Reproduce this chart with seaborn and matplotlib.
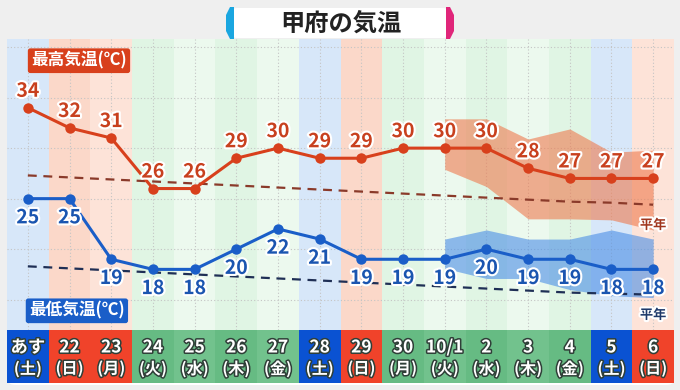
import matplotlib
matplotlib.use("Agg")
import matplotlib.pyplot as plt
import matplotlib.patheffects as pe
from matplotlib.patches import FancyBboxPatch, Polygon
import numpy as np
import pandas as pd
import seaborn as sns

sns.set_theme(style="white")
plt.rcParams['font.family'] = ['Noto Sans CJK JP', 'DejaVu Sans']

# ---- data ----
days = ["あす", "22", "23", "24", "25", "26", "27", "28", "29", "30", "10/1", "2", "3", "4", "5", "6"]
weekdays = ["土", "日", "月", "火", "水", "木", "金", "土", "日", "月", "火", "水", "木", "金", "土", "日"]
day_type = ["sat", "sun", "sun", "wk", "wk", "wk", "wk", "sat", "sun", "wk", "wk", "wk", "wk", "wk", "sat", "sun"]
high = [34, 32, 31, 26, 26, 29, 30, 29, 29, 30, 30, 30, 28, 27, 27, 27]
low = [25, 25, 19, 18, 18, 20, 22, 21, 19, 19, 19, 20, 19, 19, 18, 18]
high_normal = [27.3, 27.1, 26.9, 26.7, 26.5, 26.3, 26.1, 25.9, 25.7, 25.5, 25.3, 25.1, 24.9, 24.7, 24.6, 24.4]
low_normal = [18.3, 18.1, 17.9, 17.7, 17.5, 17.3, 17.1, 16.9, 16.7, 16.5, 16.3, 16.1, 15.9, 15.7, 15.6, 15.5]
band_start = 10
high_band_top = [32.9, 32.9, 30.9, 31.9, 29.6, 29.8]
high_band_bot = [27.9, 26.2, 23.0, 23.0, 22.9, 21.9]
low_band_top = [21.0, 21.9, 21.0, 21.0, 21.9, 21.0]
low_band_bot = [18.1, 17.1, 17.1, 16.0, 15.4, 15.2]

df = pd.DataFrame({"x": np.arange(len(days)), "high": high, "low": low,
                   "hn": high_normal, "ln": low_normal})

RED = "#d8401c"
BLUE = "#1a5ec8"
W, H = 680, 390


def fx(px):
    return px / W


def fy(py):
    return (H - py) / H


fig = plt.figure(figsize=(6.8, 3.9), dpi=100)
fig.patch.set_facecolor("#efefef")

# panel background
panel = FancyBboxPatch((fx(8), fy(385)), 666 / W, 346 / H,
                       boxstyle="round,pad=0,rounding_size=0.012",
                       transform=fig.transFigure, facecolor="white",
                       edgecolor="none", zorder=-5)
fig.patches.append(panel)

ax = fig.add_axes([fx(7), fy(330), 667 / W, 291 / H])
ax.set_zorder(2)
ax.patch.set_alpha(0)
ax.set_xlim(-0.5, 15.5)
ax.set_ylim(12, 40.8)

bg = {"sat": ["#d7e7f9", "#d7e7f9"], "sun": ["#fbd8c9", "#fde3d8"], "wk": ["#e0f5e4", "#ecf9ee"]}
cnt = {"sat": 0, "sun": 0, "wk": 0}
for i, t in enumerate(day_type):
    c = bg[t][cnt[t] % 2]
    cnt[t] += 1
    ax.axvspan(i - 0.5, i + 0.5, color=c, lw=0, zorder=0)

for yv in [15, 20, 25, 30, 35, 40]:
    ax.axhline(yv, color="#c4c4c4", lw=0.8, ls=(0, (1, 2)), zorder=1)
for i in range(len(days)):
    ax.axvline(i, color="#c4c4c4", lw=0.8, ls=(0, (1, 2)), zorder=1)

xb = np.arange(band_start, len(days))
ax.fill_between(xb, high_band_bot, high_band_top, color="#ee7a4e", alpha=0.6, lw=0, zorder=2)
ax.fill_between(xb, low_band_bot, low_band_top, color="#4a8ee6", alpha=0.6, lw=0, zorder=2)

sns.lineplot(data=df, x="x", y="hn", ax=ax, color="#8a3a2a", lw=1.6, zorder=3)
ax.lines[-1].set_linestyle((0, (4, 3)))
sns.lineplot(data=df, x="x", y="ln", ax=ax, color="#1f2f55", lw=1.6, zorder=3)
ax.lines[-1].set_linestyle((0, (4, 3)))

sns.lineplot(data=df, x="x", y="high", ax=ax, color=RED, lw=2.2, marker="o",
             markersize=7.5, markeredgewidth=0, zorder=4)
sns.lineplot(data=df, x="x", y="low", ax=ax, color=BLUE, lw=2.2, marker="o",
             markersize=7.5, markeredgewidth=0, zorder=4)

stroke = [pe.withStroke(linewidth=3, foreground="white")]
for i, v in enumerate(high):
    ax.annotate(str(v), (i, v), xytext=(0, 5), textcoords="offset points",
                ha="center", va="bottom", fontsize=14, color="#c8401e",
                fontweight="bold", path_effects=stroke, zorder=6)
for i, v in enumerate(low):
    ax.annotate(str(v), (i, v), xytext=(0, -7), textcoords="offset points",
                ha="center", va="top", fontsize=14, color="#1a55b0",
                fontweight="bold", path_effects=stroke, zorder=6)

ax.text(15, 22.4, "平年", ha="center", va="center", fontsize=9.5, fontweight="bold",
        color="#a0361e", path_effects=stroke, zorder=6)
ax.text(15, 13.5, "平年", ha="center", va="center", fontsize=9.5, fontweight="bold",
        color="#1f3a6a", path_effects=stroke, zorder=6)

ax.text(0.08, 38.65, "最高気温(℃)", ha="left", va="center", fontsize=12, fontweight="bold",
        color="white", zorder=7,
        bbox=dict(boxstyle="round,pad=0.2,rounding_size=0.15", facecolor="#d8401c", edgecolor="none"))
ax.text(0.03, 13.9, "最低気温(℃)", ha="left", va="center", fontsize=12, fontweight="bold",
        color="white", zorder=7,
        bbox=dict(boxstyle="round,pad=0.2,rounding_size=0.15", facecolor="#1a5ec8", edgecolor="none"))

ax.set_xlabel("")
ax.set_ylabel("")
ax.set_xticks([])
ax.set_yticks([])
for s in ax.spines.values():
    s.set_visible(False)

# date row
ax2 = fig.add_axes([fx(7), fy(383), 667 / W, 53 / H])
ax2.set_zorder(2)
ax2.set_xlim(-0.5, 15.5)
ax2.set_ylim(0, 1)
cell = {"sat": ["#0a52d2", "#0a52d2"], "sun": ["#f0432a", "#f0432a"], "wk": ["#66bb83", "#72c28d"]}
cnt = {"sat": 0, "sun": 0, "wk": 0}
tstroke = [pe.withStroke(linewidth=2.2, foreground="#2f3f38")]
for i, t in enumerate(day_type):
    c = cell[t][cnt[t] % 2]
    cnt[t] += 1
    ax2.axvspan(i - 0.5, i + 0.5, color=c, lw=0)
    ax2.text(i, 0.67, days[i], ha="center", va="center", fontsize=12.5, fontweight="bold",
             color="white", path_effects=tstroke)
    ax2.text(i, 0.27, f"({weekdays[i]})", ha="center", va="center", fontsize=11.5,
             fontweight="bold", color="white", path_effects=tstroke)
ax2.set_xticks([])
ax2.set_yticks([])
for s in ax2.spines.values():
    s.set_visible(False)

# title
tb = FancyBboxPatch((fx(233), fy(38)), 214 / W, 30 / H,
                    boxstyle="round,pad=0,rounding_size=0.006", transform=fig.transFigure,
                    facecolor="white", edgecolor="none", zorder=5)
fig.patches.append(tb)
lb = [(232, 7), (234, 7), (234, 39), (230, 39), (226, 31), (226, 15), (230, 7)]
rb = [(448, 7), (450, 7), (454, 15), (454, 31), (450, 39), (446, 39), (446, 7)]
fig.patches.append(Polygon([(fx(a), fy(b)) for a, b in lb], closed=True,
                           transform=fig.transFigure, facecolor="#1aa6e0",
                           edgecolor="none", zorder=6))
fig.patches.append(Polygon([(fx(a), fy(b)) for a, b in rb], closed=True,
                           transform=fig.transFigure, facecolor="#e0267a",
                           edgecolor="none", zorder=6))
fig.text(fx(341), fy(24), "甲府の気温", ha="center", va="center", fontsize=17.5,
         fontweight="bold", color="#222222", zorder=7)

fig.savefig("out.png", dpi=100, facecolor=fig.get_facecolor())
